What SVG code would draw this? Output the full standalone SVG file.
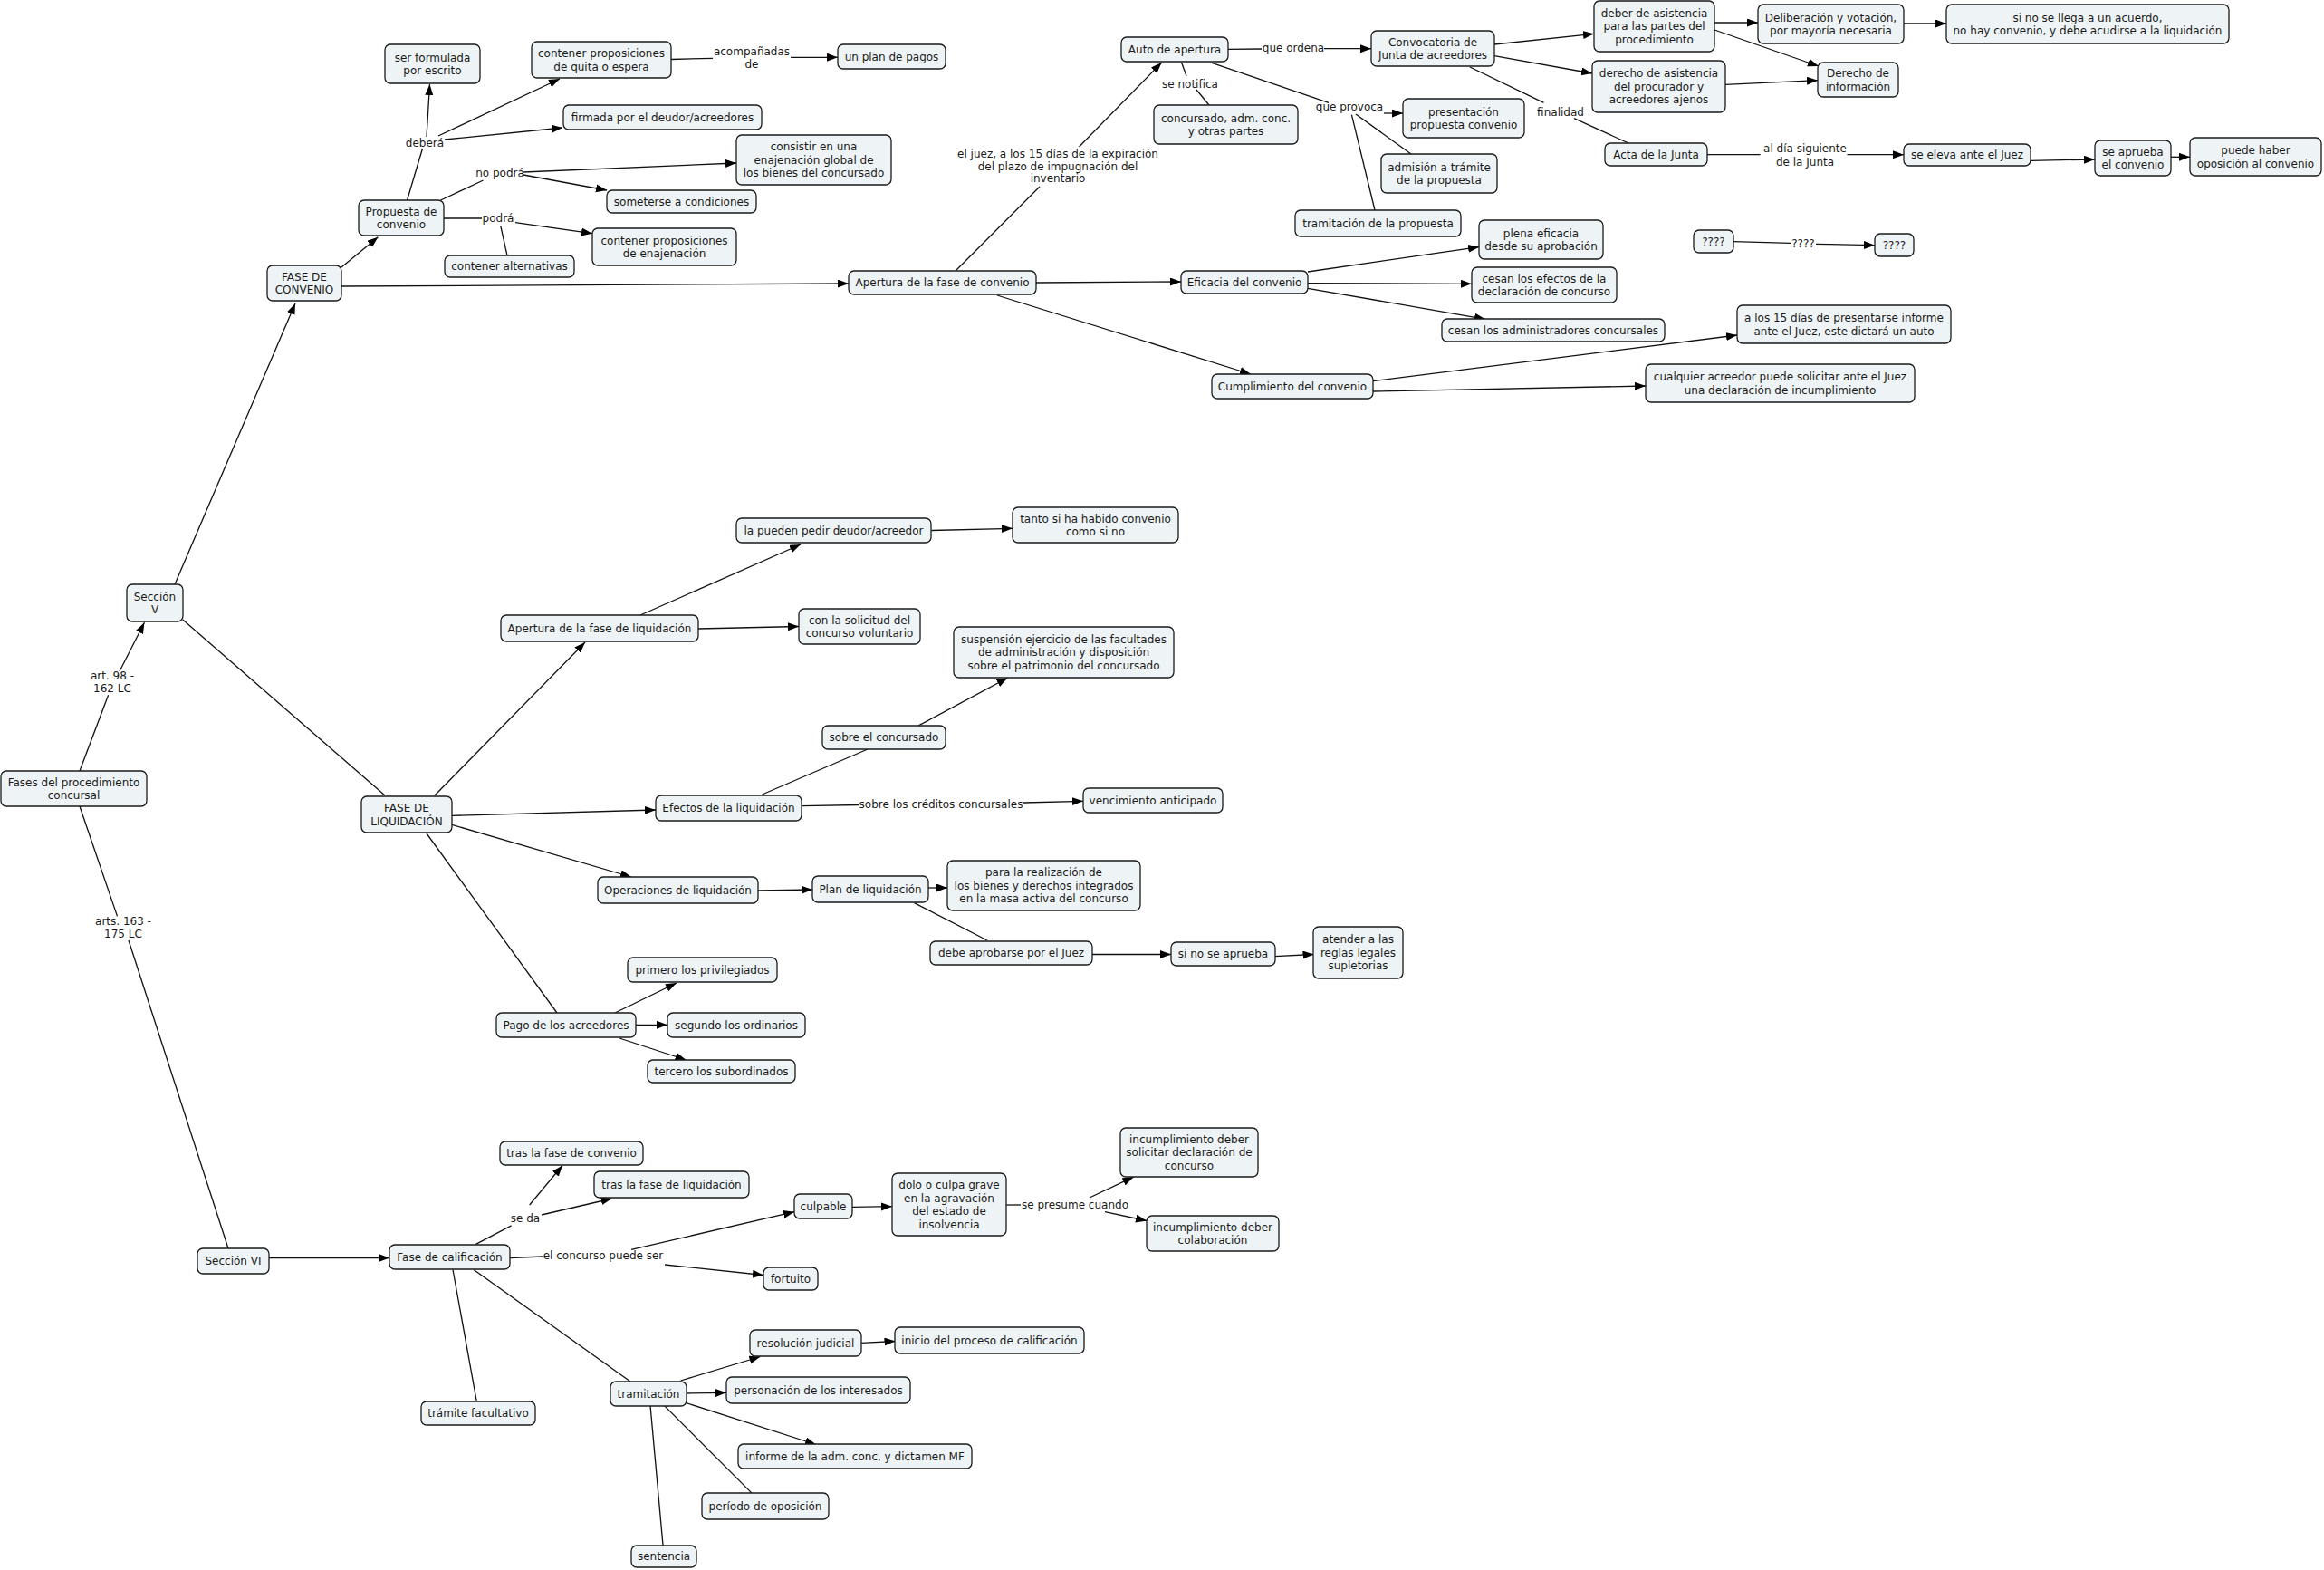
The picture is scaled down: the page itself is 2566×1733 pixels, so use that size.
<svg xmlns="http://www.w3.org/2000/svg" width="2566" height="1733" viewBox="0 0 2566 1733">
<defs>
<style>
.n rect{fill:#eef3f5;stroke:#1a1a1a;stroke-width:1.3}
text{font-family:"DejaVu Sans",Verdana,"Liberation Sans",sans-serif;font-size:12px;fill:#1a1a1a;text-anchor:middle}
.c line{stroke:#111;stroke-width:1.3}
.c line.a{marker-end:url(#ar)}
</style>
<marker id="ar" markerUnits="userSpaceOnUse" markerWidth="13" markerHeight="10" refX="12" refY="4.5" orient="auto"><path d="M0,0 L12,4.5 L0,9 z" fill="#000"/></marker>
</defs>
<rect width="2566" height="1733" fill="#fff"/>
<g id="connectors" class="c">
<line x1="88" y1="851" x2="119.6" y2="767.3"/><line class="a" x1="132" y1="741" x2="159.4" y2="687.3"/>
<line x1="88" y1="890" x2="129.5" y2="1011.4"/><line x1="142" y1="1038" x2="252" y2="1378"/>
<line class="a" x1="193" y1="645" x2="326" y2="335"/>
<line x1="201.8" y1="684" x2="425" y2="878"/>
<line class="a" x1="377" y1="295" x2="417.4" y2="261.7"/>
<line class="a" x1="377" y1="316" x2="937" y2="313"/>
<line x1="449.5" y1="221" x2="466.5" y2="164"/>
<line class="a" x1="471" y1="151" x2="474.5" y2="93"/>
<line class="a" x1="484" y1="150" x2="618" y2="87"/>
<line class="a" x1="491" y1="154" x2="621" y2="141"/>
<line x1="486.6" y1="221" x2="533.5" y2="199"/>
<line class="a" x1="578" y1="190" x2="813" y2="180"/>
<line class="a" x1="578" y1="193" x2="670" y2="210"/>
<line x1="490" y1="241" x2="532" y2="241"/>
<line class="a" x1="569" y1="245.7" x2="654" y2="257.7"/>
<line x1="552.7" y1="249" x2="560" y2="282"/>
<line x1="741" y1="65.5" x2="787" y2="64.3"/><line class="a" x1="873" y1="63.3" x2="925" y2="63.3"/>
<line x1="1056" y1="298" x2="1148" y2="206"/><line class="a" x1="1191.5" y1="162" x2="1282.6" y2="69"/>
<line class="a" x1="1144" y1="312" x2="1304" y2="311"/>
<line class="a" x1="1101" y1="326" x2="1381" y2="413"/>
<line x1="1356" y1="54.3" x2="1393" y2="54"/><line class="a" x1="1462" y1="53.7" x2="1514" y2="53.7"/>
<line x1="1304.5" y1="68.7" x2="1310" y2="84"/><line x1="1321" y1="99" x2="1335" y2="116"/>
<line x1="1338" y1="69.3" x2="1467" y2="113.3"/>
<line class="a" x1="1528" y1="125" x2="1549" y2="125"/>
<line x1="1497" y1="126" x2="1558" y2="170"/>
<line x1="1492.4" y1="126.7" x2="1518" y2="232"/>
<line class="a" x1="1650" y1="49" x2="1760" y2="37.3"/>
<line class="a" x1="1650" y1="61.7" x2="1758" y2="81"/>
<line x1="1623" y1="74" x2="1704.5" y2="113.3"/><line x1="1738" y1="130.7" x2="1798" y2="158"/>
<line class="a" x1="1893" y1="25" x2="1941" y2="25"/>
<line class="a" x1="1893" y1="33" x2="2008" y2="73"/>
<line class="a" x1="1905" y1="93.3" x2="2007" y2="88.7"/>
<line class="a" x1="2102" y1="26" x2="2149" y2="26"/>
<line x1="1885" y1="170.7" x2="1943.6" y2="170.7"/><line class="a" x1="2039.5" y1="170.7" x2="2102" y2="170.7"/>
<line class="a" x1="2242" y1="177.3" x2="2313" y2="176"/>
<line class="a" x1="2397" y1="173.3" x2="2418" y2="173.3"/>
<line x1="1914" y1="266.7" x2="1977" y2="268.3"/><line class="a" x1="2005" y1="269.3" x2="2070" y2="270.7"/>
<line class="a" x1="1444" y1="300" x2="1633" y2="272.7"/>
<line class="a" x1="1444" y1="312.7" x2="1625" y2="313.3"/>
<line class="a" x1="1444" y1="318.3" x2="1640" y2="352.3"/>
<line class="a" x1="1516" y1="420.7" x2="1918" y2="370"/>
<line class="a" x1="1516" y1="432" x2="1817" y2="426"/>
<line class="a" x1="480" y1="878" x2="646" y2="709"/>
<line class="a" x1="499" y1="900.3" x2="724" y2="894"/>
<line class="a" x1="499" y1="910.4" x2="697" y2="968"/>
<line x1="471" y1="920" x2="615" y2="1118"/>
<line class="a" x1="707" y1="679" x2="884" y2="601"/>
<line class="a" x1="1028.5" y1="585.5" x2="1118" y2="583.3"/>
<line class="a" x1="771" y1="694" x2="882" y2="691.5"/>
<line x1="841.5" y1="877" x2="958" y2="827"/>
<line class="a" x1="1014" y1="801" x2="1112.5" y2="748.3"/>
<line x1="885" y1="889.7" x2="949" y2="888.5"/><line class="a" x1="1130" y1="886" x2="1196" y2="884.3"/>
<line class="a" x1="837" y1="983" x2="897" y2="982"/>
<line class="a" x1="1025" y1="980" x2="1046" y2="980"/>
<line x1="1009.5" y1="996.6" x2="1090" y2="1038"/>
<line class="a" x1="1206" y1="1053.5" x2="1293" y2="1053.5"/>
<line class="a" x1="1407.4" y1="1055.6" x2="1450.5" y2="1053.5"/>
<line class="a" x1="679" y1="1118" x2="747" y2="1085"/>
<line class="a" x1="702" y1="1131.3" x2="737" y2="1131.3"/>
<line class="a" x1="684" y1="1146" x2="757.5" y2="1170"/>
<line class="a" x1="297" y1="1388.5" x2="430" y2="1388.5"/>
<line x1="525" y1="1373.6" x2="564.6" y2="1352.8"/>
<line class="a" x1="584.7" y1="1330" x2="621" y2="1286.5"/>
<line class="a" x1="598" y1="1341" x2="675.6" y2="1323"/>
<line x1="562.7" y1="1388.5" x2="599.5" y2="1387"/>
<line class="a" x1="697" y1="1379.3" x2="877" y2="1337.7"/>
<line class="a" x1="734" y1="1396" x2="843" y2="1407.5"/>
<line class="a" x1="941" y1="1332.4" x2="985" y2="1331.7"/>
<line x1="1111" y1="1330" x2="1127" y2="1330"/>
<line class="a" x1="1203" y1="1322" x2="1251.5" y2="1299.2"/>
<line class="a" x1="1220" y1="1337.7" x2="1266" y2="1347.5"/>
<line x1="500" y1="1401.5" x2="526.3" y2="1547"/>
<line x1="523" y1="1401.5" x2="696" y2="1525"/>
<line class="a" x1="751.5" y1="1524" x2="839.4" y2="1497.5"/>
<line class="a" x1="951" y1="1482.3" x2="988.5" y2="1480.5"/>
<line class="a" x1="757.6" y1="1538" x2="802" y2="1537.3"/>
<line class="a" x1="757.6" y1="1548.6" x2="901" y2="1594.5"/>
<line x1="733.3" y1="1551.4" x2="830.3" y2="1648.4"/>
<line x1="718" y1="1551.4" x2="732" y2="1705.6"/>
</g>
<g id="labels">
<text x="830" y="61"><tspan x="830">acompañadas</tspan><tspan x="830" dy="14.3">de</tspan></text>
<text x="469" y="162.3">deberá</text>
<text x="552" y="195.3">no podrá</text>
<text x="550" y="245.3">podrá</text>
<text x="1168" y="174.3"><tspan x="1168">el juez, a los 15 días de la expiración</tspan><tspan x="1168" dy="13.4">del plazo de impugnación del</tspan><tspan x="1168" dy="13.4">inventario</tspan></text>
<text x="1428" y="56.6">que ordena</text>
<text x="1314" y="97">se notifica</text>
<text x="1490" y="122.3">que provoca</text>
<text x="1723" y="128.3">finalidad</text>
<text x="1993" y="168"><tspan x="1993">al día siguiente</tspan><tspan x="1993" dy="14.6">de la Junta</tspan></text>
<text x="1991" y="273">????</text>
<text x="124" y="750.1"><tspan x="124">art. 98 -</tspan><tspan x="124" dy="14.2">162 LC</tspan></text>
<text x="136" y="1021.1"><tspan x="136">arts. 163 -</tspan><tspan x="136" dy="14.2">175 LC</tspan></text>
<text x="1039" y="891.9">sobre los créditos concursales</text>
<text x="580" y="1349">se da</text>
<text x="666" y="1390.3">el concurso puede ser</text>
<text x="1187" y="1333.5">se presume cuando</text>
</g>
<g id="n1" class="n"><rect x="1" y="851" width="161" height="39" rx="6"/><text x="81.5" y="867.5"><tspan x="81.5">Fases del procedimiento</tspan><tspan x="81.5" dy="14.5">concursal</tspan></text></g>
<g id="n2" class="n"><rect x="140" y="645" width="62" height="41" rx="6"/><text x="171" y="662.6"><tspan x="171">Sección</tspan><tspan x="171" dy="14.5">V</tspan></text></g>
<g id="n3" class="n"><rect x="295" y="293" width="82" height="39" rx="6"/><text x="336" y="309.6"><tspan x="336">FASE DE</tspan><tspan x="336" dy="14.5">CONVENIO</tspan></text></g>
<g id="n4" class="n"><rect x="396" y="221" width="94" height="39" rx="6"/><text x="443" y="237.6"><tspan x="443">Propuesta de</tspan><tspan x="443" dy="14.5">convenio</tspan></text></g>
<g id="n5" class="n"><rect x="425" y="49" width="105" height="43" rx="6"/><text x="477.5" y="67.6"><tspan x="477.5">ser formulada</tspan><tspan x="477.5" dy="14.5">por escrito</tspan></text></g>
<g id="n6" class="n"><rect x="587" y="46" width="154" height="40" rx="6"/><text x="664" y="63.1"><tspan x="664">contener proposiciones</tspan><tspan x="664" dy="14.5">de quita o espera</tspan></text></g>
<g id="n7" class="n"><rect x="925" y="49" width="119" height="27" rx="6"/><text x="984.5" y="66.8">un plan de pagos</text></g>
<g id="n8" class="n"><rect x="622" y="116" width="219" height="27" rx="6"/><text x="731.5" y="133.8">firmada por el deudor/acreedores</text></g>
<g id="n9" class="n"><rect x="813" y="149" width="171" height="55" rx="6"/><text x="898.5" y="166.3"><tspan x="898.5">consistir en una</tspan><tspan x="898.5" dy="14.5">enajenación global de</tspan><tspan x="898.5" dy="14.5">los bienes del concursado</tspan></text></g>
<g id="n10" class="n"><rect x="670" y="210" width="165" height="25" rx="6"/><text x="752.5" y="226.8">someterse a condiciones</text></g>
<g id="n11" class="n"><rect x="654" y="252" width="159" height="41" rx="6"/><text x="733.5" y="269.6"><tspan x="733.5">contener proposiciones</tspan><tspan x="733.5" dy="14.5">de enajenación</tspan></text></g>
<g id="n12" class="n"><rect x="491" y="282" width="143" height="24" rx="6"/><text x="562.5" y="298.3">contener alternativas</text></g>
<g id="n13" class="n"><rect x="937" y="299" width="207" height="26" rx="6"/><text x="1040.5" y="316.3">Apertura de la fase de convenio</text></g>
<g id="n14" class="n"><rect x="1238" y="41" width="118" height="27" rx="6"/><text x="1297" y="58.8">Auto de apertura</text></g>
<g id="n15" class="n"><rect x="1514" y="34" width="136" height="39" rx="6"/><text x="1582" y="50.6"><tspan x="1582">Convocatoria de</tspan><tspan x="1582" dy="14.5">Junta de acreedores</tspan></text></g>
<g id="n16" class="n"><rect x="1274" y="116" width="159" height="43" rx="6"/><text x="1353.5" y="134.6"><tspan x="1353.5">concursado, adm. conc.</tspan><tspan x="1353.5" dy="14.5">y otras partes</tspan></text></g>
<g id="n17" class="n"><rect x="1549" y="109" width="134" height="43" rx="6"/><text x="1616" y="127.6"><tspan x="1616">presentación</tspan><tspan x="1616" dy="14.5">propuesta convenio</tspan></text></g>
<g id="n18" class="n"><rect x="1525" y="170" width="128" height="43" rx="6"/><text x="1589" y="188.6"><tspan x="1589">admisión a trámite</tspan><tspan x="1589" dy="14.5">de la propuesta</tspan></text></g>
<g id="n19" class="n"><rect x="1430" y="232" width="183" height="29" rx="6"/><text x="1521.5" y="250.8">tramitación de la propuesta</text></g>
<g id="n20" class="n"><rect x="1772" y="158" width="113" height="25" rx="6"/><text x="1828.5" y="174.8">Acta de la Junta</text></g>
<g id="n21" class="n"><rect x="1760" y="1" width="133" height="56" rx="6"/><text x="1826.5" y="18.8"><tspan x="1826.5">deber de asistencia</tspan><tspan x="1826.5" dy="14.5">para las partes del</tspan><tspan x="1826.5" dy="14.5">procedimiento</tspan></text></g>
<g id="n22" class="n"><rect x="1758" y="67" width="147" height="57" rx="6"/><text x="1831.5" y="85.3"><tspan x="1831.5">derecho de asistencia</tspan><tspan x="1831.5" dy="14.5">del procurador y</tspan><tspan x="1831.5" dy="14.5">acreedores ajenos</tspan></text></g>
<g id="n23" class="n"><rect x="1941" y="5" width="161" height="43" rx="6"/><text x="2021.5" y="23.6"><tspan x="2021.5">Deliberación y votación,</tspan><tspan x="2021.5" dy="14.5">por mayoría necesaria</tspan></text></g>
<g id="n24" class="n"><rect x="2149" y="5" width="312" height="43" rx="6"/><text x="2305" y="23.6"><tspan x="2305">si no se llega a un acuerdo,</tspan><tspan x="2305" dy="14.5">no hay convenio, y debe acudirse a la liquidación</tspan></text></g>
<g id="n25" class="n"><rect x="2007" y="69" width="89" height="38" rx="6"/><text x="2051.5" y="85.1"><tspan x="2051.5">Derecho de</tspan><tspan x="2051.5" dy="14.5">información</tspan></text></g>
<g id="n26" class="n"><rect x="2102" y="159" width="140" height="24" rx="6"/><text x="2172" y="175.3">se eleva ante el Juez</text></g>
<g id="n27" class="n"><rect x="2313" y="155" width="84" height="39" rx="6"/><text x="2355" y="171.6"><tspan x="2355">se aprueba</tspan><tspan x="2355" dy="14.5">el convenio</tspan></text></g>
<g id="n28" class="n"><rect x="2418" y="152" width="145" height="42" rx="6"/><text x="2490.5" y="170.1"><tspan x="2490.5">puede haber</tspan><tspan x="2490.5" dy="14.5">oposición al convenio</tspan></text></g>
<g id="n29" class="n"><rect x="1870" y="254" width="44" height="25" rx="6"/><text x="1892" y="270.8">????</text></g>
<g id="n30" class="n"><rect x="2070" y="258" width="43" height="25" rx="6"/><text x="2091.5" y="274.8">????</text></g>
<g id="n31" class="n"><rect x="1304" y="299" width="140" height="25" rx="6"/><text x="1374" y="315.8">Eficacia del convenio</text></g>
<g id="n32" class="n"><rect x="1633" y="243" width="137" height="43" rx="6"/><text x="1701.5" y="261.6"><tspan x="1701.5">plena eficacia</tspan><tspan x="1701.5" dy="14.5">desde su aprobación</tspan></text></g>
<g id="n33" class="n"><rect x="1625" y="295" width="160" height="39" rx="6"/><text x="1705" y="311.6"><tspan x="1705">cesan los efectos de la</tspan><tspan x="1705" dy="14.5">declaración de concurso</tspan></text></g>
<g id="n34" class="n"><rect x="1592" y="352" width="246" height="25" rx="6"/><text x="1715" y="368.8">cesan los administradores concursales</text></g>
<g id="n35" class="n"><rect x="1338" y="413" width="178" height="27" rx="6"/><text x="1427" y="430.8">Cumplimiento del convenio</text></g>
<g id="n36" class="n"><rect x="1918" y="337" width="236" height="42" rx="6"/><text x="2036" y="355.1"><tspan x="2036">a los 15 días de presentarse informe</tspan><tspan x="2036" dy="14.5">ante el Juez, este dictará un auto</tspan></text></g>
<g id="n37" class="n"><rect x="1817" y="402" width="297" height="42" rx="6"/><text x="1965.5" y="420.1"><tspan x="1965.5">cualquier acreedor puede solicitar ante el Juez</tspan><tspan x="1965.5" dy="14.5">una declaración de incumplimiento</tspan></text></g>
<g id="n38" class="n"><rect x="399" y="879" width="100" height="40" rx="6"/><text x="449" y="896.1"><tspan x="449">FASE DE</tspan><tspan x="449" dy="14.5">LIQUIDACIÓN</tspan></text></g>
<g id="n39" class="n"><rect x="553" y="679" width="218" height="29" rx="6"/><text x="662" y="697.8">Apertura de la fase de liquidación</text></g>
<g id="n40" class="n"><rect x="813" y="572" width="215" height="27" rx="6"/><text x="920.5" y="589.8">la pueden pedir deudor/acreedor</text></g>
<g id="n41" class="n"><rect x="1118" y="560" width="183" height="39" rx="6"/><text x="1209.5" y="576.6"><tspan x="1209.5">tanto si ha habido convenio</tspan><tspan x="1209.5" dy="14.5">como si no</tspan></text></g>
<g id="n42" class="n"><rect x="882" y="672" width="134" height="39" rx="6"/><text x="949" y="688.6"><tspan x="949">con la solicitud del</tspan><tspan x="949" dy="14.5">concurso voluntario</tspan></text></g>
<g id="n43" class="n"><rect x="1053" y="692" width="243" height="56" rx="6"/><text x="1174.5" y="709.8"><tspan x="1174.5">suspensión ejercicio de las facultades</tspan><tspan x="1174.5" dy="14.5">de administración y disposición</tspan><tspan x="1174.5" dy="14.5">sobre el patrimonio del concursado</tspan></text></g>
<g id="n44" class="n"><rect x="908" y="801" width="136" height="26" rx="6"/><text x="976" y="818.3">sobre el concursado</text></g>
<g id="n45" class="n"><rect x="724" y="878" width="161" height="28" rx="6"/><text x="804.5" y="896.3">Efectos de la liquidación</text></g>
<g id="n46" class="n"><rect x="1196" y="870" width="154" height="27" rx="6"/><text x="1273" y="887.8">vencimiento anticipado</text></g>
<g id="n47" class="n"><rect x="660" y="968" width="177" height="29" rx="6"/><text x="748.5" y="986.8">Operaciones de liquidación</text></g>
<g id="n48" class="n"><rect x="897" y="967" width="128" height="29" rx="6"/><text x="961" y="985.8">Plan de liquidación</text></g>
<g id="n49" class="n"><rect x="1046" y="950" width="213" height="55" rx="6"/><text x="1152.5" y="967.3"><tspan x="1152.5">para la realización de</tspan><tspan x="1152.5" dy="14.5">los bienes y derechos integrados</tspan><tspan x="1152.5" dy="14.5">en la masa activa del concurso</tspan></text></g>
<g id="n50" class="n"><rect x="1027" y="1039" width="179" height="26" rx="6"/><text x="1116.5" y="1056.3">debe aprobarse por el Juez</text></g>
<g id="n51" class="n"><rect x="1293" y="1040" width="115" height="26" rx="6"/><text x="1350.5" y="1057.3">si no se aprueba</text></g>
<g id="n52" class="n"><rect x="1450" y="1023" width="99" height="57" rx="6"/><text x="1499.5" y="1041.3"><tspan x="1499.5">atender a las</tspan><tspan x="1499.5" dy="14.5">reglas legales</tspan><tspan x="1499.5" dy="14.5">supletorias</tspan></text></g>
<g id="n53" class="n"><rect x="548" y="1118" width="154" height="27" rx="6"/><text x="625" y="1135.8">Pago de los acreedores</text></g>
<g id="n54" class="n"><rect x="693" y="1057" width="165" height="27" rx="6"/><text x="775.5" y="1074.8">primero los privilegiados</text></g>
<g id="n55" class="n"><rect x="737" y="1118" width="152" height="27" rx="6"/><text x="813" y="1135.8">segundo los ordinarios</text></g>
<g id="n56" class="n"><rect x="715" y="1170" width="163" height="25" rx="6"/><text x="796.5" y="1186.8">tercero los subordinados</text></g>
<g id="n57" class="n"><rect x="218" y="1378" width="79" height="28" rx="6"/><text x="257.5" y="1396.3">Sección VI</text></g>
<g id="n58" class="n"><rect x="430" y="1374" width="133" height="27" rx="6"/><text x="496.5" y="1391.8">Fase de calificación</text></g>
<g id="n59" class="n"><rect x="552" y="1260" width="158" height="26" rx="6"/><text x="631" y="1277.3">tras la fase de convenio</text></g>
<g id="n60" class="n"><rect x="656" y="1293" width="171" height="29" rx="6"/><text x="741.5" y="1311.8">tras la fase de liquidación</text></g>
<g id="n61" class="n"><rect x="877" y="1318" width="64" height="27" rx="6"/><text x="909" y="1335.8">culpable</text></g>
<g id="n62" class="n"><rect x="985" y="1295" width="126" height="69" rx="6"/><text x="1048" y="1312"><tspan x="1048">dolo o culpa grave</tspan><tspan x="1048" dy="14.5">en la agravación</tspan><tspan x="1048" dy="14.5">del estado de</tspan><tspan x="1048" dy="14.5">insolvencia</tspan></text></g>
<g id="n63" class="n"><rect x="1237" y="1245" width="152" height="54" rx="6"/><text x="1313" y="1261.8"><tspan x="1313">incumplimiento deber</tspan><tspan x="1313" dy="14.5">solicitar declaración de</tspan><tspan x="1313" dy="14.5">concurso</tspan></text></g>
<g id="n64" class="n"><rect x="1266" y="1342" width="146" height="39" rx="6"/><text x="1339" y="1358.6"><tspan x="1339">incumplimiento deber</tspan><tspan x="1339" dy="14.5">colaboración</tspan></text></g>
<g id="n65" class="n"><rect x="843" y="1399" width="60" height="25" rx="6"/><text x="873" y="1415.8">fortuito</text></g>
<g id="n66" class="n"><rect x="465" y="1547" width="126" height="26" rx="6"/><text x="528" y="1564.3">trámite facultativo</text></g>
<g id="n67" class="n"><rect x="674" y="1525" width="84" height="27" rx="6"/><text x="716" y="1542.8">tramitación</text></g>
<g id="n68" class="n"><rect x="828" y="1468" width="123" height="29" rx="6"/><text x="889.5" y="1486.8">resolución judicial</text></g>
<g id="n69" class="n"><rect x="988" y="1465" width="209" height="29" rx="6"/><text x="1092.5" y="1483.8">inicio del proceso de calificación</text></g>
<g id="n70" class="n"><rect x="802" y="1520" width="203" height="29" rx="6"/><text x="903.5" y="1538.8">personación de los interesados</text></g>
<g id="n71" class="n"><rect x="815" y="1594" width="258" height="27" rx="6"/><text x="944" y="1611.8">informe de la adm. conc, y dictamen MF</text></g>
<g id="n72" class="n"><rect x="775" y="1648" width="140" height="29" rx="6"/><text x="845" y="1666.8">período de oposición</text></g>
<g id="n73" class="n"><rect x="697" y="1706" width="72" height="24" rx="6"/><text x="733" y="1722.3">sentencia</text></g>
</svg>
